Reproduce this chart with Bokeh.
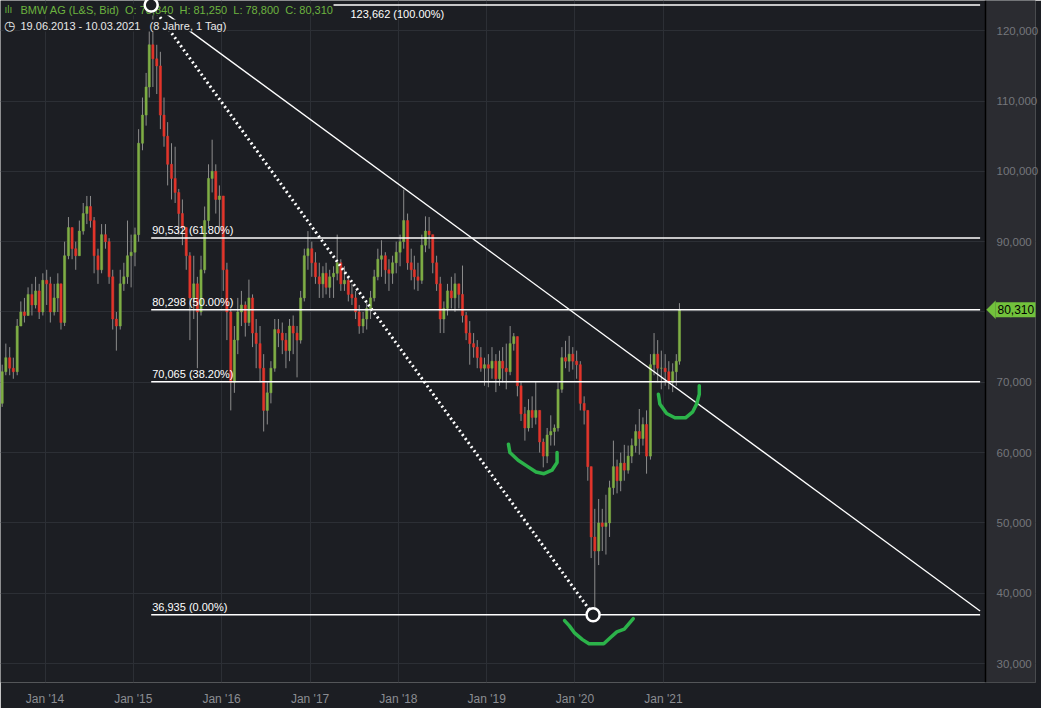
import pandas as pd
from bokeh.plotting import figure
from bokeh.models import (Range1d, FixedTicker, ColumnDataSource, Label, PolyAnnotation,
                          BoxAnnotation, Span)
from bokeh.core.properties import value
from bokeh.embed import file_html
from bokeh.resources import INLINE

# ---------------- data (semi-monthly OHLC) ----------------
first_open = 66.5
highs = [
    # 2013 (Jun H2 .. Dec H2)
    68.0, 72.5, 75.5, 75.0, 73.5, 79.0, 81.5, 82.0, 83.5, 84.0, 85.0, 84.0, 85.5,
    # 2014
    86.0, 85.0, 84.0, 85.5, 84.0, 90.0, 93.5, 92.0, 90.0, 93.0, 95.5, 96.5,
    96.5, 93.5, 89.0, 92.5, 92.5, 90.5, 86.0, 80.0, 86.0, 87.0, 93.0, 91.0,
    # 2015
    92.0, 106.0, 110.5, 114.0, 120.0, 123.662, 118.0, 117.0, 110.5, 107.0, 104.0, 103.5,
    97.5, 96.0, 92.0, 88.5, 88.0, 85.0, 88.0, 95.0, 101.0, 104.5, 101.0, 98.0,
    # 2016
    96.5, 87.0, 80.5, 78.0, 82.0, 83.0, 81.5, 84.6, 82.5, 79.0, 78.0, 74.0,
    70.0, 73.0, 79.0, 79.0, 78.5, 77.0, 79.0, 79.5, 78.0, 83.0, 89.0, 91.5,
    # 2017
    90.0, 88.5, 87.0, 86.5, 87.0, 86.0, 86.5, 91.0, 87.5, 86.5, 85.0, 84.0,
    83.0, 81.0, 80.0, 81.5, 83.0, 86.0, 89.0, 90.2, 88.5, 87.5, 88.0, 90.0,
    # 2018
    91.0, 97.4, 94.0, 89.0, 88.0, 87.0, 91.0, 93.6, 93.5, 91.0, 88.0, 85.0,
    81.5, 84.0, 85.0, 85.5, 84.0, 86.6, 80.0, 78.7, 77.0, 76.0, 75.0, 73.5,
    # 2019
    74.0, 75.0, 74.0, 74.5, 75.0, 75.5, 78.0, 77.0, 76.5, 70.0, 66.5, 67.6,
    68.0, 70.1, 66.0, 62.0, 63.5, 65.3, 64.0, 70.0, 75.0, 75.9, 76.6, 75.0,
    # 2020
    74.5, 73.0, 68.0, 66.0, 58.0, 52.0, 53.4, 52.0, 54.0, 56.0, 61.7, 59.0,
    60.0, 61.1, 61.0, 62.0, 64.0, 66.2, 65.0, 66.0, 74.0, 77.0, 76.0, 74.5,
    # 2021 (Jan H1 .. Mar H1)
    74.0, 73.0, 72.7, 74.0, 81.25,
]
lows = [
    65.0, 66.5, 71.0, 71.0, 70.5, 71.0, 78.0, 78.5, 79.5, 79.5, 80.5, 79.0, 79.5,
    81.0, 78.5, 79.5, 80.0, 77.5, 78.0, 87.5, 87.5, 86.0, 88.0, 91.0, 92.5,
    92.0, 85.5, 84.0, 85.5, 89.0, 84.0, 77.5, 74.5, 77.5, 83.0, 84.0, 83.5,
    86.5, 90.0, 103.0, 106.5, 110.5, 112.0, 111.0, 106.0, 103.5, 98.0, 96.0, 95.5,
    91.0, 89.5, 86.0, 76.0, 79.0, 72.0, 79.5, 85.5, 92.0, 97.0, 94.0, 92.0,
    83.0, 76.0, 66.0, 68.5, 74.0, 78.0, 76.5, 78.0, 75.0, 72.0, 70.0, 63.0,
    64.0, 67.0, 71.5, 75.0, 74.0, 72.0, 73.0, 74.0, 70.7, 75.5, 81.5, 86.0,
    85.0, 84.0, 82.0, 82.0, 82.5, 82.0, 82.0, 84.5, 83.0, 83.0, 81.5, 81.0,
    79.0, 76.9, 77.0, 77.5, 79.0, 81.5, 84.5, 85.0, 84.0, 83.0, 84.0, 85.5,
    86.5, 89.0, 86.0, 84.5, 83.2, 83.0, 84.0, 88.5, 89.0, 85.5, 83.0, 77.0,
    77.0, 79.5, 80.5, 80.0, 80.5, 78.5, 76.0, 72.5, 73.5, 72.0, 71.5, 69.5,
    69.3, 70.5, 68.6, 69.5, 70.0, 69.0, 71.0, 74.5, 68.0, 64.5, 61.7, 63.0,
    63.5, 64.0, 60.0, 57.9, 58.5, 61.0, 61.0, 63.0, 68.5, 72.0, 71.5, 71.8,
    70.5, 66.0, 64.0, 56.0, 45.0, 36.935, 44.0, 46.0, 45.5, 48.0, 54.0, 54.2,
    54.5, 56.0, 57.0, 58.5, 60.0, 59.7, 61.0, 57.0, 59.0, 71.0, 70.0, 69.0,
    69.5, 69.0, 68.6, 69.5, 72.5,
]
closes = [
    67.0, 71.5, 73.5, 72.0, 71.5, 78.0, 80.0, 79.5, 82.5, 81.0, 83.0, 80.0, 84.5,
    84.0, 80.0, 82.0, 84.0, 78.5, 88.0, 92.0, 89.0, 88.0, 91.5, 94.0, 95.0,
    93.0, 88.0, 86.0, 91.0, 90.0, 85.0, 79.0, 78.0, 84.0, 85.0, 88.0, 88.5,
    91.0, 104.0, 108.0, 112.0, 118.0, 116.0, 115.0, 108.0, 105.0, 101.0, 99.0, 97.0,
    94.0, 92.0, 88.0, 82.0, 84.0, 80.0, 86.0, 93.0, 99.0, 100.0, 96.0, 96.5,
    86.0, 80.0, 70.0, 76.0, 80.0, 81.0, 78.5, 82.0, 77.0, 75.5, 72.0, 66.0,
    68.5, 72.0, 77.5, 77.0, 76.0, 74.5, 78.0, 77.0, 76.0, 82.0, 88.0, 89.0,
    87.0, 85.0, 84.0, 85.5, 83.5, 85.0, 85.5, 87.0, 84.0, 84.5, 82.5, 82.0,
    80.0, 78.0, 79.0, 80.5, 82.0, 85.0, 87.5, 88.0, 86.0, 85.5, 87.0, 88.5,
    90.0, 93.0, 87.0, 86.0, 85.0, 84.5, 89.5, 91.5, 91.0, 87.0, 84.0, 79.0,
    80.5, 83.0, 82.0, 84.0, 82.5, 79.5, 77.0, 75.5, 75.0, 73.5, 72.0, 72.5,
    72.0, 73.0, 70.5, 73.0, 72.0, 71.5, 75.5, 76.5, 69.5, 65.5, 63.5, 66.0,
    65.0, 66.0, 61.5, 59.5, 62.5, 63.0, 63.5, 69.0, 73.5, 73.0, 74.0, 73.0,
    72.5, 67.0, 66.0, 58.0, 48.0, 46.0, 50.0, 49.5, 50.0, 55.0, 58.0, 56.0,
    58.5, 57.5, 59.5, 61.0, 63.0, 62.0, 64.0, 59.5, 72.5, 74.0, 72.0, 72.0,
    71.5, 70.0, 71.5, 73.0, 80.31,
]

# calendar of the half-month periods (Jun 2013 H2 .. Mar 2021 H1)
period_dates = []
for m in pd.period_range("2013-06", "2021-03", freq="M"):
    for d in (8, 23):
        period_dates.append(pd.Timestamp(year=m.year, month=m.month, day=d))
period_dates = period_dates[1:-1]
assert len(period_dates) == len(closes) == len(highs) == len(lows)

opens = [first_open] + closes[:-1]

# Fibonacci retracement
fib_levels = [123.662, 90.532, 80.298, 70.065, 36.935]
fib_labels = ["123,662 (100.00%)", "90,532 (61.80%)", "80,298 (50.00%)",
              "70,065 (38.20%)", "36,935 (0.00%)"]
fib_start = "2015-03-16"
chart_end = "2024-08-02"          # right edge of the chart area (price scale begins here)
view_end = "2025-03-19"           # right edge of the price-scale panel

# dotted retracement line (high -> low) and circles
swing_dates = ["2015-03-16", "2020-03-16"]
swing_prices = [123.662, 36.935]

# solid down-trend line
trend_dates = ["2015-04-10", "2024-08-02"]
trend_prices = [123.36, 37.47]

# hand-drawn green marks
mark1_dates = ["2019-04-01", "2019-04-07", "2019-05-11", "2019-06-20", "2019-07-24",
               "2019-08-26", "2019-09-28", "2019-10-19", "2019-10-19"]
mark1_prices = [61.2, 60.0, 58.9, 58.0, 57.25, 57.0, 57.5, 58.6, 60.0]
mark2_dates = ["2020-12-11", "2020-12-17", "2021-01-14", "2021-02-17", "2021-04-02",
               "2021-05-02", "2021-05-18", "2021-05-29", "2021-05-29"]
mark2_prices = [68.3, 66.9, 65.55, 64.95, 64.95, 65.8, 66.9, 68.3, 69.5]
mark3_dates = ["2019-11-19", "2019-12-09", "2019-12-29", "2020-02-01", "2020-02-28",
               "2020-04-29", "2020-05-27", "2020-06-22", "2020-07-23", "2020-08-29"]
mark3_prices = [36.1, 35.35, 34.4, 33.4, 32.8, 32.8, 33.7, 34.5, 34.9, 36.4]

# axes
xtick_dates = ["2014-01-01", "2015-01-01", "2016-01-01", "2017-01-01",
               "2018-01-01", "2019-01-01", "2020-01-01", "2021-01-01"]
xtick_labels = ["Jan '14", "Jan '15", "Jan '16", "Jan '17",
                "Jan '18", "Jan '19", "Jan '20", "Jan '21"]
ytick_values = [30, 40, 50, 60, 70, 80, 90, 100, 110, 120]
ytick_labels = ["30,000", "40,000", "50,000", "60,000", "70,000", "80,000",
                "90,000", "100,000", "110,000", "120,000"]

last_close = closes[-1]
last_label = "80,310"
NB = "\u00a0"
header1 = f"BMW AG (L&S, Bid){NB*2}O: 78,840{NB*2}H: 81,250{NB*2}L: 78,800{NB*2}C: 80,310"
header2 = f"19.06.2013 - 10.03.2021{NB*3}(8 Jahre, 1 Tag)"

# ---------------- styling ----------------
BG = "#1c1e23"
PANEL = "#2b2c31"
GRID = "#2c2f35"
UP = "#7fae45"
DOWN = "#e2352b"
WICK = "#8c8c8c"
MARK = "#2cb34a"
HEAD_GREEN = "#6cb33f"
BADGE = "#72c23c"

W, H = 1041, 708
PANEL_W = 56
BOTTOM = 22
CHART_W = W - PANEL_W
FRAME_H = H - BOTTOM

def ms(d):
    return pd.Timestamp(d).value / 1e6

p = figure(width=W, height=H, x_axis_type="datetime", y_axis_location="right",
           x_range=Range1d(ms("2013-07-01"), ms(view_end)),
           y_range=Range1d(27.3, 124.3),
           output_backend="svg", toolbar_location=None,
           background_fill_color=BG, border_fill_color=BG,
           min_border_left=0, min_border_top=0, min_border_right=0,
           min_border_bottom=BOTTOM)
p.outline_line_color = None

xt = [ms(d) for d in xtick_dates]
p.xgrid.ticker = FixedTicker(ticks=xt)
p.ygrid.ticker = FixedTicker(ticks=ytick_values)
p.xgrid.grid_line_color = GRID
p.ygrid.grid_line_color = GRID

# price-scale panel background (covers the grid on the right side)
p.add_layout(BoxAnnotation(left=CHART_W, left_units="screen", fill_color=PANEL,
                           fill_alpha=1.0, line_color=None, level="underlay"))

p.xaxis.ticker = FixedTicker(ticks=xt)
p.xaxis.major_label_overrides = {t: l for t, l in zip(xt, xtick_labels)}
p.xaxis.axis_line_color = None
p.xaxis.major_tick_line_color = None
p.xaxis.minor_tick_line_color = None
p.xaxis.major_label_text_color = "#8b8d92"
p.xaxis.major_label_text_font = "Liberation Sans"
p.xaxis.major_label_text_font_size = "12px"
p.xaxis.major_label_standoff = 3

# price axis: labels drawn inside the panel area
p.yaxis.ticker = FixedTicker(ticks=ytick_values)
p.yaxis.major_label_overrides = {v: l for v, l in zip(ytick_values, ytick_labels)}
p.yaxis.axis_line_color = None
p.yaxis.major_tick_line_color = None
p.yaxis.minor_tick_line_color = None
p.yaxis.major_label_standoff = -(PANEL_W - 11)
p.yaxis.major_label_text_color = "#74767b"
p.yaxis.major_label_text_font = "Liberation Sans"
p.yaxis.major_label_text_font_size = "11.5px"

# candles
colors = [UP if c >= o else DOWN for o, c in zip(opens, closes)]
src = ColumnDataSource(dict(
    t=period_dates, o=opens, h=highs, l=lows, c=closes,
    top=[max(o, c) for o, c in zip(opens, closes)],
    bot=[min(o, c) for o, c in zip(opens, closes)],
    color=colors))
p.segment(x0="t", y0="h", x1="t", y1="l", source=src, line_color=WICK, line_width=1)
p.vbar(x="t", width=9 * 24 * 3600 * 1000, top="top", bottom="bot", source=src,
       fill_color="color", line_color="color", line_width=0.5)

# Fibonacci lines and labels
fib_src = ColumnDataSource(dict(
    x0=[pd.Timestamp(fib_start)] * len(fib_levels),
    x1=[pd.Timestamp(chart_end)] * len(fib_levels),
    y=fib_levels, label=fib_labels))
p.segment(x0="x0", y0="y", x1="x1", y1="y", source=fib_src, line_color="white", line_width=1.5)
lab_src = ColumnDataSource(dict(
    x=[pd.Timestamp(fib_start)] * (len(fib_levels) - 1),
    y=fib_levels[1:], label=fib_labels[1:]))
p.text(x="x", y="y", text="label", source=lab_src, text_color="white",
       text_font=value("Liberation Sans"), text_font_size="11px",
       text_baseline="bottom", x_offset=1, y_offset=-2)
# the 100 % label sits at the very top edge: shown just under its line, right of the header
p.add_layout(Label(x=350, y=fib_levels[0], x_units="screen", y_units="data",
                   text=fib_labels[0], text_color="white", text_font_size="11px",
                   text_font="Liberation Sans", text_baseline="top", y_offset=-3))

# trend lines
p.line(x=[pd.Timestamp(d) for d in trend_dates], y=trend_prices, line_color="white", line_width=1.3)
p.line(x=[pd.Timestamp(d) for d in swing_dates], y=swing_prices, line_color="white",
       line_width=3, line_dash="2 3")

# green hand-drawn marks
for ds, ps in ((mark1_dates, mark1_prices), (mark2_dates, mark2_prices), (mark3_dates, mark3_prices)):
    p.line(x=[pd.Timestamp(d) for d in ds], y=ps, line_color=MARK, line_width=3.5,
           line_join="round", line_cap="round")

# separator between chart and price scale
p.add_layout(Span(location=CHART_W, location_units="screen", dimension="height",
                  line_color="#000000", line_width=1.5))

# header
def head(x, y_top, text, color, size):
    return Label(x=x, y=FRAME_H - y_top, x_units="screen", y_units="screen", text=text,
                 text_color=color, text_font_size=size, text_font="Liberation Sans",
                 text_baseline="middle", text_align="left",
                 background_fill_color=BG, background_fill_alpha=1.0)

p.add_layout(head(4, 13, "ılı", HEAD_GREEN, "10px"))
p.add_layout(head(20, 13, header1, HEAD_GREEN, "11px"))
p.add_layout(head(3, 29, "◷", "#e8e8e8", "13px"))
p.add_layout(head(20, 29, header2, "#e8e8e8", "11px"))

# swing circles on top of the header
p.scatter(x=[pd.Timestamp(d) for d in swing_dates], y=swing_prices, size=13,
          fill_color=BG, line_color="white", line_width=2.5, level="overlay")

# last price badge
p.add_layout(PolyAnnotation(xs=[CHART_W + 1, CHART_W + 10, CHART_W + 10],
                            ys=[last_close, last_close + 1.27, last_close - 1.27],
                            xs_units="screen", ys_units="data",
                            fill_color=BADGE, fill_alpha=1.0, line_color=BADGE,
                            level="overlay"))
p.add_layout(Label(x=CHART_W + 10, y=last_close, x_units="screen", y_units="data",
                   text=last_label, text_color="#000000", text_font_size="12px",
                   text_font="Liberation Sans", text_baseline="middle", text_align="left",
                   background_fill_color=BADGE, background_fill_alpha=1.0,
                   padding=dict(left=2, right=12, top=3, bottom=3), level="overlay"))

open("out.html", "w").write(file_html(p, INLINE))
